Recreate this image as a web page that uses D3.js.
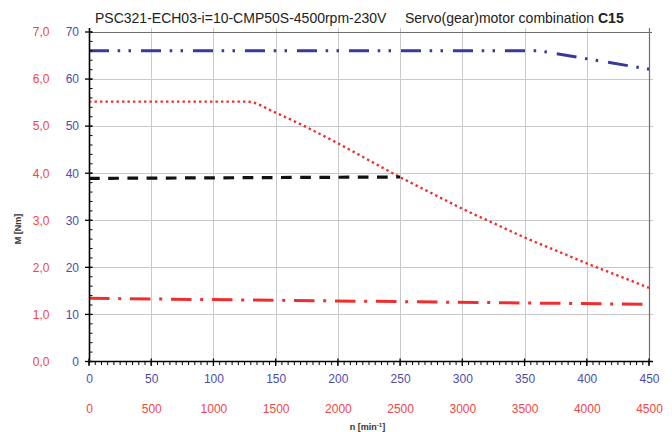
<!DOCTYPE html>
<html>
<head>
<meta charset="utf-8">
<script src="https://cdn.jsdelivr.net/npm/d3@7"></script>
<style>
  body { margin: 0; background: #fff; }
  svg { display: block; font-family: "Liberation Sans", Arial, sans-serif; }
</style>
</head>
<body>
<svg id="chart" width="672" height="432"></svg>
<script>
// Speed axes: gear output speed (blue) and motor speed (red), i = 10
const gearSpeedTicks  = [0, 50, 100, 150, 200, 250, 300, 350, 400, 450];
const motorSpeedTicks = [0, 500, 1000, 1500, 2000, 2500, 3000, 3500, 4000, 4500];
// Torque axes: gear output torque (blue, Nm) and motor torque (red, Nm)
const gearTorqueTicks  = [0, 10, 20, 30, 40, 50, 60, 70];
const motorTorqueTicks = [0, 1, 2, 3, 4, 5, 6, 7];

// Gear unit torque limit (gear scale)
const gearLimitSpeed  = [0, 362, 450];
const gearLimitTorque = [66, 66, 62.1];

// Continuous output torque (gear scale)
const contSpeed  = [0, 250];
const contTorque = [38.9, 39.2];

// Motor peak torque characteristic (motor scale)
const peakSpeed  = [0, 1270, 1500, 1750, 2000, 2250, 2500, 2750, 3000, 3250, 3500, 3750, 4000, 4250, 4500];
const peakTorque = [5.52, 5.52, 5.285, 4.975, 4.635, 4.275, 3.915, 3.58, 3.245, 2.94, 2.635, 2.36, 2.085, 1.825, 1.565];

// Motor standstill / rated torque (motor scale)
const ratedSpeed  = [0, 4500];
const ratedTorque = [1.343, 1.215];

const svg = d3.select("#chart");
const plotL = 89, plotR = 649, plotT = 32, plotB = 361.5;

const xGear  = d3.scaleLinear().domain([0, 450]).range([plotL, plotR]);
const xMotor = d3.scaleLinear().domain([0, 4500]).range([plotL, plotR]);
const yGear  = d3.scaleLinear().domain([0, 70]).range([plotB, plotT]);
const yMotor = d3.scaleLinear().domain([0, 7]).range([plotB, plotT]);

const blueText = "#4d4da8", redText = "#f04646";
const blueLine = "#39399a", redLine = "#ee2f2f";

// grid
const grid = svg.append("g").attr("stroke", "#c9c9c9").attr("stroke-width", 1);
grid.selectAll("line.v").data(gearSpeedTicks.slice(1, -1)).join("line")
  .attr("x1", d => Math.round(xGear(d)) + 0.5).attr("x2", d => Math.round(xGear(d)) + 0.5)
  .attr("y1", plotT - 4).attr("y2", plotB);
grid.selectAll("line.h").data(gearTorqueTicks.slice(1, -1)).join("line")
  .attr("y1", d => Math.round(yGear(d)) + 0.5).attr("y2", d => Math.round(yGear(d)) + 0.5)
  .attr("x1", plotL).attr("x2", plotR + 4);

// frame (top and right)
svg.append("line").attr("x1", plotL).attr("x2", plotR + 3)
  .attr("y1", Math.round(plotT) + 0.5).attr("y2", Math.round(plotT) + 0.5)
  .attr("stroke", "#6e6e6e").attr("stroke-width", 1.2);
svg.append("line").attr("x1", Math.round(plotR) + 0.5).attr("x2", Math.round(plotR) + 0.5)
  .attr("y1", plotT - 4).attr("y2", plotB)
  .attr("stroke", "#6e6e6e").attr("stroke-width", 1.2);

// curves
function drawCurve(xs, ys, xScale, yScale, color, width, dash, curve) {
  const pts = xs.map((x, i) => [x, ys[i]]);
  const line = d3.line().x(d => xScale(d[0])).y(d => yScale(d[1])).curve(curve || d3.curveLinear);
  svg.append("path").datum(pts)
    .attr("d", line)
    .attr("fill", "none")
    .attr("stroke", color)
    .attr("stroke-width", width)
    .attr("stroke-dasharray", dash);
}

drawCurve(ratedSpeed, ratedTorque, xMotor, yMotor, redLine, 3, "20.5 8.7 3 8.8");
drawCurve(peakSpeed, peakTorque, xMotor, yMotor, redLine, 2.4, "2.4 3.1", d3.curveMonotoneX);
drawCurve(contSpeed, contTorque, xGear, yGear, "#111", 3.2, "10.7 8.5");
drawCurve(gearLimitSpeed, gearLimitTorque, xGear, yGear, blueLine, 3, "20 8.7 2.5 8.3 2.5 10");

// left axis line and ticks
const axisG = svg.append("g").attr("stroke", "#000");
axisG.append("line").attr("x1", plotL + 0.5).attr("x2", plotL + 0.5)
  .attr("y1", plotT - 4).attr("y2", plotB + 1).attr("stroke-width", 1.6);
axisG.selectAll("line.ymin").data(d3.range(0, 71, 2)).join("line")
  .attr("x1", plotL).attr("x2", plotL + 3.5)
  .attr("y1", d => yGear(d)).attr("y2", d => yGear(d)).attr("stroke-width", 1);
axisG.selectAll("line.ymaj").data(gearTorqueTicks).join("line")
  .attr("x1", plotL - 4).attr("x2", plotL + 3.5)
  .attr("y1", d => yGear(d)).attr("y2", d => yGear(d)).attr("stroke-width", 1.3);

// bottom axis line and ticks
axisG.append("line").attr("x1", plotL).attr("x2", plotR + 4)
  .attr("y1", plotB).attr("y2", plotB).attr("stroke-width", 1.6);
axisG.selectAll("line.xmin").data(d3.range(0, 451, 5)).join("line")
  .attr("x1", d => xGear(d)).attr("x2", d => xGear(d))
  .attr("y1", plotB).attr("y2", plotB + 3.5).attr("stroke-width", 1);
axisG.selectAll("line.xmaj").data(gearSpeedTicks).join("line")
  .attr("x1", d => xGear(d)).attr("x2", d => xGear(d))
  .attr("y1", plotB - 3).attr("y2", plotB + 4.5).attr("stroke-width", 1.3);

// tick labels through d3 axes
function labelAxis(axis, transform, color) {
  const g = svg.append("g").attr("transform", transform).call(axis);
  g.select(".domain").remove();
  g.selectAll(".tick line").remove();
  g.selectAll("text").attr("fill", color).style("font-size", "12px")
    .style("font-family", '"Liberation Sans", Arial, sans-serif');
  return g;
}
const comma = d => d.toFixed(1).replace(".", ",");
const plain = d3.format("d");

labelAxis(d3.axisLeft(yGear).tickValues(gearTorqueTicks).tickSize(0).tickPadding(10).tickFormat(plain),
  `translate(${plotL},0)`, blueText);
labelAxis(d3.axisLeft(yMotor).tickValues(motorTorqueTicks).tickSize(0).tickPadding(39.5).tickFormat(comma),
  `translate(${plotL},0)`, redText);
labelAxis(d3.axisBottom(xGear).tickValues(gearSpeedTicks).tickSize(0).tickPadding(13.2).tickFormat(plain),
  `translate(0,${plotB})`, blueText);
labelAxis(d3.axisBottom(xMotor).tickValues(motorSpeedTicks).tickSize(0).tickPadding(42.5).tickFormat(plain),
  `translate(0,${plotB})`, redText);

// axis titles
svg.append("text")
  .attr("transform", "translate(21,229) rotate(-90)")
  .attr("text-anchor", "middle")
  .attr("font-size", 9).attr("font-weight", "bold").attr("fill", "#333")
  .text("M [Nm]");

const xt = svg.append("text")
  .attr("x", 367.5).attr("y", 430)
  .attr("text-anchor", "middle")
  .attr("font-size", 9).attr("font-weight", "bold").attr("fill", "#333");
xt.append("tspan").text("n [min");
xt.append("tspan").attr("font-size", 6).attr("dy", -3).text("-1");
xt.append("tspan").attr("dy", 3).text("]");

// title
svg.append("text").attr("x", 95).attr("y", 22.5)
  .attr("font-size", 14).attr("fill", "#222")
  .text("PSC321-ECH03-i=10-CMP50S-4500rpm-230V");
const t2 = svg.append("text").attr("x", 405).attr("y", 22.5)
  .attr("font-size", 14).attr("fill", "#222");
t2.append("tspan").text("Servo(gear)motor combination ");
t2.append("tspan").attr("font-weight", "bold").text("C15");
</script>
</body>
</html>
